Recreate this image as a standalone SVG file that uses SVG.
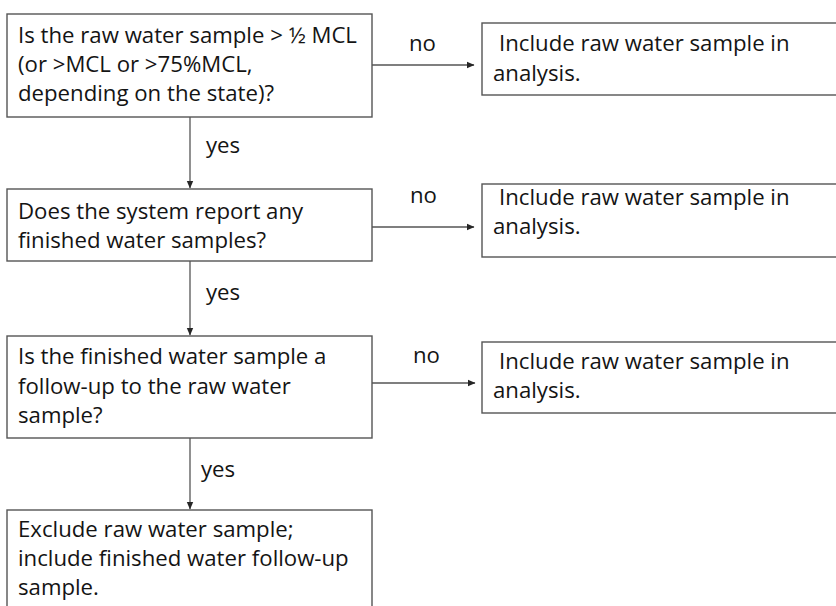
<svg xmlns="http://www.w3.org/2000/svg" width="836" height="606" viewBox="0 0 836 606">
<defs>
<marker id="ah" markerWidth="8" markerHeight="8" refX="7" refY="4" orient="auto" markerUnits="userSpaceOnUse">
<path d="M0,0.8 L7.5,4 L0,7.2 Z" fill="#262626"/>
</marker>
<style>
.box{fill:#fff;stroke:#555;stroke-width:1.4}
.t{font-family:"Open Sans","Liberation Sans",sans-serif;font-size:22.2px;fill:#141414}
.c{stroke:#555;stroke-width:1.3;fill:none}
</style>
</defs>
<rect width="836" height="606" fill="#fff"/>
<g id="q1">
<rect class="box" x="7" y="14" width="365" height="103"/>
<text class="t" x="18" y="43">Is the raw water sample &gt; ½ MCL</text>
<text class="t" x="18" y="72">(or &gt;MCL or &gt;75%MCL,</text>
<text class="t" x="18" y="101">depending on the state)?</text>
</g>
<g id="r1">
<rect class="box" x="482" y="23" width="360" height="72"/>
<text class="t" x="499" y="51">Include raw water sample in</text>
<text class="t" x="493" y="81">analysis.</text>
</g>
<g id="q2">
<rect class="box" x="7" y="189" width="365" height="72"/>
<text class="t" x="18" y="219">Does the system report any</text>
<text class="t" x="18" y="248">finished water samples?</text>
</g>
<g id="r2">
<rect class="box" x="482" y="184" width="360" height="73"/>
<text class="t" x="499" y="205">Include raw water sample in</text>
<text class="t" x="493" y="234">analysis.</text>
</g>
<g id="q3">
<rect class="box" x="7" y="336" width="365" height="102"/>
<text class="t" x="18" y="364">Is the finished water sample a</text>
<text class="t" x="18" y="394">follow-up to the raw water</text>
<text class="t" x="18" y="423">sample?</text>
</g>
<g id="r3">
<rect class="box" x="482" y="342" width="360" height="71"/>
<text class="t" x="499" y="369">Include raw water sample in</text>
<text class="t" x="493" y="398">analysis.</text>
</g>
<g id="end">
<rect class="box" x="7" y="510" width="365" height="110"/>
<text class="t" x="18" y="537">Exclude raw water sample;</text>
<text class="t" x="18" y="566">include finished water follow-up</text>
<text class="t" x="18" y="595">sample.</text>
</g>
<g id="connectors">
<line class="c" x1="190" y1="117" x2="190" y2="188" marker-end="url(#ah)"/>
<line class="c" x1="190" y1="261" x2="190" y2="335" marker-end="url(#ah)"/>
<line class="c" x1="190" y1="438" x2="190" y2="509" marker-end="url(#ah)"/>
<line class="c" x1="372" y1="65" x2="474" y2="65" marker-end="url(#ah)"/>
<line class="c" x1="372" y1="227" x2="474" y2="227" marker-end="url(#ah)"/>
<line class="c" x1="372" y1="383" x2="475" y2="383" marker-end="url(#ah)"/>
<text class="t" x="206" y="153">yes</text>
<text class="t" x="206" y="300">yes</text>
<text class="t" x="201" y="477">yes</text>
<text class="t" x="409" y="51">no</text>
<text class="t" x="410" y="203">no</text>
<text class="t" x="413" y="363">no</text>
</g>
</svg>
